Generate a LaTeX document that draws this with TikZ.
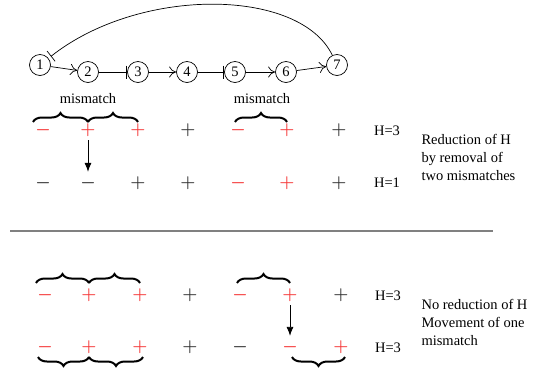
\documentclass[tikz,border=0pt]{standalone}
\usepackage{fontspec}
\setmainfont{Liberation Serif}
\usetikzlibrary{arrows.meta,decorations.pathreplacing}
\definecolor{signred}{RGB}{245,55,55}
\definecolor{signdark}{RGB}{50,50,50}

\begin{document}
\begin{tikzpicture}[x=1pt,y=-1pt]
	\tikzset{font=\fontsize{14.5}{18}\selectfont}
	\tikzset{vertex/.style = {shape=circle,draw,line width=0.7pt,minimum size=21pt,inner sep=0pt}}
	\tikzset{edge/.style = {line width=0.7pt,-{To[length=7pt,width=11pt]}}}
	\tikzset{block/.style = {line width=0.7pt,-{Bar[width=13pt]}}}
	\tikzset{sign/.style = {font=\fontsize{19}{19}\selectfont\boldmath,text=signdark}}
	\tikzset{redsign/.style = {sign,text=signred}}
	\tikzset{mbrace/.style = {decorate,decoration={brace,amplitude=9pt},line width=2pt}}
	\tikzset{move/.style = {line width=0.8pt,-{Latex[length=9pt,width=7pt]},shorten >=1pt}}
	\useasboundingbox (0,0) rectangle (551,373);
    % vertices
    \node[vertex] (n1) at (40,65) {1};
    \node[vertex] (n2) at (88,72) {2};
    \node[vertex] (n3) at (138,72) {3};
    \node[vertex] (n4) at (187,72) {4};
    \node[vertex] (n5) at (235,72) {5};
    \node[vertex] (n6) at (286,72) {6};
    \node[vertex] (n7) at (337,65) {7};
    %edges
	\draw[edge] (n1) -- (n2);
	\draw[block] (n2) -- (n3);
	\draw[edge] (n3) -- (n4);
	\draw[block] (n4) -- (n5);
	\draw[edge] (n5) -- (n6);
	\draw[edge] (n6) -- (n7);
	\draw[block,shorten >=3pt] (n7) .. controls (300,-12) and (140,-14) .. (n1);
    % first example
    \node[redsign] (a1) at (43,130) {$-$};
    \node[redsign] (a2) at (88,130) {$+$};
    \node[redsign] (a3) at (138,130) {$+$};
    \node[sign] (a4) at (188,130) {$+$};
    \node[redsign] (a5) at (238,130) {$-$};
    \node[redsign] (a6) at (287,130) {$+$};
    \node[sign] (a7) at (339,130) {$+$};
    \node[sign] (b1) at (43,183) {$-$};
    \node[sign] (b2) at (88,183) {$-$};
    \node[sign] (b3) at (138,183) {$+$};
    \node[sign] (b4) at (188,183) {$+$};
    \node[redsign] (b5) at (238,183) {$-$};
    \node[redsign] (b6) at (287,183) {$+$};
    \node[sign] (b7) at (339,183) {$+$};
	\draw[mbrace] ([shift={(-10pt,8pt)}]a1.center) -- ([yshift=8pt]a2.center);
	\draw[mbrace] ([yshift=8pt]a2.center) -- ([yshift=8pt]a3.center);
	\draw[mbrace] ([shift={(-3pt,8pt)}]a5.center) -- ([yshift=8pt]a6.center);
    \node (m1) at (88,99) {mismatch};
    \node (m2) at (262,99) {mismatch};
	\draw[move] (a2) -- (b2);
    \node (h1) at (387,131) {H=3};
    \node (h2) at (387,183) {H=1};
    \node[anchor=west,align=left] (t1) at (418,157) {Reduction of H\\by removal of\\two mismatches};
    % separator
    \coordinate (l1) at (10,231);
    \coordinate (l2) at (493,231);
	\draw[line width=1.5pt,gray] (l1) -- (l2);
    % second example
    \node[redsign] (c1) at (45,295) {$-$};
    \node[redsign] (c2) at (89,295) {$+$};
    \node[redsign] (c3) at (140,295) {$+$};
    \node[sign] (c4) at (190,295) {$+$};
    \node[redsign] (c5) at (240,295) {$-$};
    \node[redsign] (c6) at (290,295) {$+$};
    \node[sign] (c7) at (341,295) {$+$};
    \node[redsign] (d1) at (45,347) {$-$};
    \node[redsign] (d2) at (89,347) {$+$};
    \node[redsign] (d3) at (140,347) {$+$};
    \node[sign] (d4) at (190,347) {$+$};
    \node[sign] (d5) at (240,347) {$-$};
    \node[redsign] (d6) at (290,347) {$-$};
    \node[redsign] (d7) at (341,347) {$+$};
	\draw[mbrace] ([shift={(-9pt,12pt)}]c1.center) -- ([yshift=12pt]c2.center);
	\draw[mbrace] ([yshift=12pt]c2.center) -- ([yshift=12pt]c3.center);
	\draw[mbrace] ([shift={(-3pt,12pt)}]c5.center) -- ([yshift=12pt]c6.center);
	\draw[mbrace] ([yshift=-10pt]d2.center) -- ([shift={(-7pt,-10pt)}]d1.center);
	\draw[mbrace] ([shift={(3pt,-10pt)}]d3.center) -- ([yshift=-10pt]d2.center);
	\draw[mbrace] ([shift={(4pt,-10pt)}]d7.center) -- ([shift={(2pt,-10pt)}]d6.center);
	\draw[move] (c6) -- (d6);
    \node (h3) at (388,296) {H=3};
    \node (h4) at (388,348) {H=3};
    \node[anchor=west,align=left] (t2) at (418,322) {No reduction of H\\Movement of one\\mismatch};
\end{tikzpicture}
\end{document}
